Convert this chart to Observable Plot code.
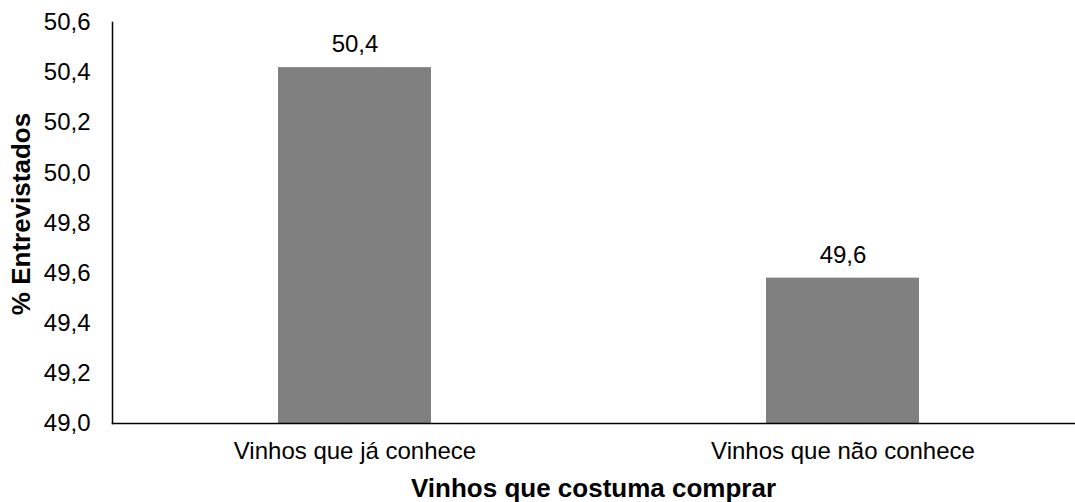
<!DOCTYPE html>
<html>
<head>
<meta charset="utf-8">
<script src="https://cdn.jsdelivr.net/npm/d3@7"></script>
<script src="https://cdn.jsdelivr.net/npm/@observablehq/plot@0.6"></script>
<style>
  html, body { margin: 0; padding: 0; background: #fff; }
  svg { display: block; }
</style>
</head>
<body>
<div id="chart"></div>
<script>
const categories = ["Vinhos que já conhece", "Vinhos que não conhece"];
const values = [50.42, 49.58];
const yTicks = [49.0, 49.2, 49.4, 49.6, 49.8, 50.0, 50.2, 50.4, 50.6];
const yTitle = "% Entrevistados";
const xTitle = "Vinhos que costuma comprar";

const data = categories.map((c, i) => ({cat: c, value: values[i]}));
const fmt = d => d.toFixed(1).replace(".", ",");
const yMin = yTicks[0], yMax = yTicks[yTicks.length - 1];

const chart = Plot.plot({
  width: 1075,
  height: 502,
  marginTop: 22,
  marginBottom: 79,
  marginLeft: 112,
  marginRight: 1,
  style: {fontFamily: "'Liberation Sans', Arial, sans-serif", fontSize: "24px", color: "#000", background: "#fff"},
  x: {domain: categories, range: [110.5, 1086.5], paddingInner: 0.686, paddingOuter: 0.343},
  y: {domain: [yMin, yMax]},
  marks: [
    Plot.barY(data, {x: "cat", y1: () => yMin, y2: "value", fill: "#808080"}),
    Plot.text(data, {x: "cat", y: "value", text: d => fmt(d.value), dy: -23, fill: "#000", fontSize: 24}),
    Plot.axisY({ticks: yTicks, tickFormat: fmt, tickSize: 0, tickPadding: 22, label: null, fill: "#000", fontSize: 24}),
    Plot.axisX({tickSize: 0, tickPadding: 18, label: null, fill: "#000", fontSize: 24}),
    Plot.frame({anchor: "left", stroke: "#000", strokeWidth: 1.5}),
    Plot.frame({anchor: "bottom", stroke: "#000", strokeWidth: 1.5}),
    Plot.text([yTitle], {frameAnchor: "left", textAnchor: "middle", lineAnchor: "middle", dx: -91, dy: -9, rotate: -90, fontWeight: "bold", fontSize: 26, fill: "#000"}),
    Plot.text([xTitle], {frameAnchor: "bottom", textAnchor: "middle", lineAnchor: "middle", dy: 65, fontWeight: "bold", fontSize: 26, fill: "#000"})
  ]
});
document.getElementById("chart").appendChild(chart);
</script>
</body>
</html>
